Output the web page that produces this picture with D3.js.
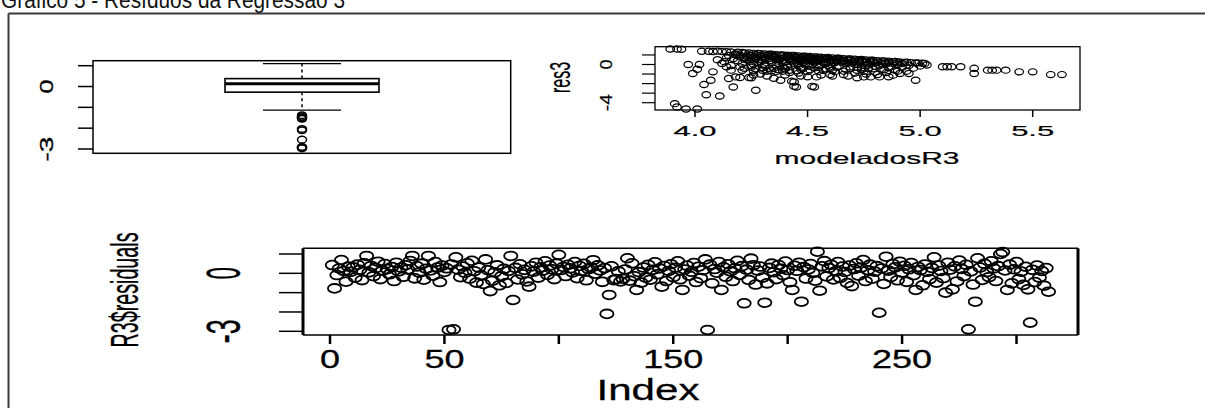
<!DOCTYPE html>
<html><head><meta charset="utf-8">
<script src="https://cdn.jsdelivr.net/npm/d3@7"></script>
<style>html,body{margin:0;padding:0;background:#fff;overflow:hidden}</style>
</head><body>
<svg id="c" width="1205" height="408"></svg>
<script>
// ---------- DATA ----------
const titleText = "Gráfico 5 - Resíduos da Regressão 3";

// R3$residuals by index (1..314)
const residuals = [
 0.43,-0.78,-0.09,0.25,0.69,0.12,-0.43,0.35,0.08,0.31,
 -0.22,0.45,0.18,-0.35,0.52,0.90,0.05,0.38,-0.15,0.27,
 0.60,-0.30,0.14,0.48,0.22,-0.05,0.33,-0.40,0.55,0.10,
 0.29,-0.18,0.42,0.20,0.64,0.90,-0.26,0.36,0.04,0.50,
 -0.33,0.24,0.90,0.15,-0.12,0.58,0.30,-0.45,0.40,0.07,
 0.26,-2.93,0.46,-2.90,0.83,0.19,-0.20,0.35,0.02,0.52,
 -0.28,0.65,0.11,-0.48,0.30,-0.10,-0.55,0.72,0.16,-0.92,
 -0.38,0.05,0.41,-0.62,-0.15,0.23,-0.50,0.12,0.90,-1.38,
 0.28,-0.32,0.47,-0.05,0.18,-0.42,-0.69,0.36,0.09,0.55,
 -0.22,0.31,0.14,0.62,-0.08,0.40,0.21,-0.30,0.50,0.96,
 0.17,0.33,-0.14,0.44,0.26,0.05,0.58,-0.25,0.38,0.12,
 0.49,-0.36,0.22,0.30,0.68,-0.02,0.41,0.15,-0.44,0.27,
 -2.10,-1.12,0.36,-0.35,-0.30,0.10,-0.42,-0.28,0.20,0.78,
 -0.38,0.52,-0.15,-0.86,0.06,-0.48,0.30,-0.22,0.44,-0.33,
 0.18,0.57,-0.05,0.25,-0.69,0.38,-0.40,0.12,0.47,-0.20,
 0.29,0.62,-0.31,-0.86,0.20,0.40,-0.12,0.08,0.53,-0.45,
 0.34,-0.25,0.16,0.72,-2.93,0.45,-0.52,0.22,0.03,0.58,
 -0.86,0.31,-0.18,0.47,0.10,-0.40,0.26,0.65,-0.08,0.37,
 -1.55,0.19,-0.34,0.76,0.42,-0.58,0.14,0.35,-0.22,-1.52,
 -0.52,0.28,0.50,0.06,-0.30,0.43,0.24,-0.10,0.61,0.17,
 -0.46,-0.86,0.39,0.13,0.55,-1.47,0.32,-0.27,0.20,0.48,
 0.02,-0.38,1.12,-0.90,0.36,0.63,-0.16,0.27,0.44,-0.32,
 0.11,0.58,-0.24,0.35,0.07,-0.50,0.40,-0.66,0.22,0.52,
 -0.12,0.30,0.69,-0.40,0.16,0.45,-0.28,0.09,0.37,-2.04,
 0.25,-0.55,0.86,0.14,-0.20,0.48,0.31,-0.36,0.60,0.04,
 0.39,-0.44,0.21,0.53,-0.10,-0.86,0.33,0.17,-0.62,0.46,
 0.08,-0.30,0.28,0.83,-0.48,0.40,0.12,-0.25,-1.00,0.55,
 0.19,-0.83,0.36,-0.42,0.66,0.23,-0.15,0.44,-2.90,0.10,
 -0.58,-1.47,0.78,0.30,-0.34,0.49,0.06,-0.20,0.62,0.26,
 -0.40,0.37,1.00,1.10,0.15,-0.86,0.45,-0.52,0.21,0.58,
 -0.30,0.09,-0.60,0.34,-0.83,-2.55,0.18,-0.45,0.40,-0.22,
 0.12,-0.64,0.27,-0.95
];

const boxStats = {lowerWhisker:-1.13, q1:-0.27, median:0.13, q3:0.38, upperWhisker:1.10};
const boxOutliers = [-1.38,-1.45,-1.47,-1.52,-1.55,-2.04,-2.10,-2.55,-2.90,-2.92,-2.93,-2.97];

// res3 vs modeladosR3 (fitted values)
const modeladosR3 = [
 3.89,3.92,3.94,3.91,3.92,3.96,4.01,3.97,4.02,4.01,3.99,4.04,4.07,4.05,4.11,
 4.03,4.06,4.08,4.10,4.12,4.10,4.12,4.14,4.08,4.16,4.15,4.18,4.20,4.24,4.17,
 4.14,4.16,4.15,4.17,4.13,4.16,4.14,4.18,
 4.19,4.21,4.20,4.22,4.19,4.21,4.20,4.22,4.23,4.21,
 4.24,4.26,4.25,4.27,4.24,4.26,4.25,4.27,4.28,4.23,4.26,4.28,4.25,
 4.29,4.31,4.30,4.32,4.29,4.31,4.30,4.32,4.29,4.33,4.30,4.31,4.28,
 4.34,4.36,4.35,4.37,4.34,4.36,4.35,4.38,4.36,4.38,4.33,4.37,4.39,
 4.39,4.41,4.40,4.42,4.39,4.41,4.40,4.43,4.44,4.42,4.43,4.40,4.41,4.38,
 4.44,4.46,4.45,4.47,4.44,4.46,4.45,4.47,4.48,4.45,4.46,4.43,4.47,4.44,
 4.49,4.51,4.50,4.52,4.49,4.51,4.50,4.52,4.53,4.53,4.50,4.51,4.48,
 4.54,4.56,4.55,4.57,4.54,4.56,4.55,4.58,4.55,4.57,4.53,
 4.59,4.61,4.60,4.62,4.59,4.61,4.60,4.63,4.60,4.62,4.58,
 4.64,4.66,4.65,4.67,4.64,4.66,4.68,4.65,4.67,4.63,
 4.69,4.71,4.70,4.72,4.69,4.71,4.73,4.70,4.72,4.68,
 4.74,4.76,4.75,4.77,4.74,4.76,4.78,4.75,4.73,4.75,
 4.79,4.81,4.80,4.82,4.79,4.81,4.83,4.80,4.78,4.78,4.82,
 4.84,4.86,4.85,4.87,4.84,4.86,4.88,4.85,4.88,
 4.89,4.91,4.90,4.92,4.89,4.91,4.93,4.90,
 4.94,4.96,4.95,4.97,4.94,4.95,4.98,4.98,
 4.99,5.01,5.00,5.02,5.03,
 4.32,4.34,4.36,4.42,4.44,4.47,4.52,4.54,4.57,4.37,4.43,4.48,4.27,4.24,4.33,4.46,4.52,4.58,4.62,4.66,
 4.18,4.20,4.22,4.24,4.26,4.28,4.29,4.31,4.33,4.35,4.36,4.38,4.39,4.41,4.42,4.44,4.45,4.46,4.48,4.49,
 4.50,4.52,4.53,4.55,4.56,4.58,4.59,4.61,4.63,4.64,4.66,4.68,4.69,4.71,4.73,4.74,4.76,4.77,4.79,4.81,
 4.83,4.84,4.86,4.88,4.90,4.92,
 4.22,4.25,4.27,4.30,4.33,4.34,4.37,4.39,4.42,4.45,4.48,4.50,4.53,4.55,4.58,4.61,4.63,4.66,4.69,4.72,
 4.74,4.77,4.80,4.83,4.86,4.32,4.40,4.47,4.54,4.60,4.68,4.72,4.35,4.26,
 5.10,5.12,5.14,5.18,5.24,5.24,5.30,5.32,5.34,5.38,5.44,5.50,5.58,5.63
];
const res3 = [
 1.62,1.62,1.60,-4.10,-4.45,-4.66,-4.66,0.00,0.00,-0.50,-0.94,-2.10,-1.65,-3.17,-3.30,
 1.38,1.38,1.36,1.40,1.35,0.50,0.10,-0.24,-0.77,-0.59,-1.47,-1.30,-1.36,-1.36,-2.36,
 1.34,1.31,0.95,0.62,0.30,-0.10,0.70,1.02,
 1.28,1.25,0.98,0.70,0.40,0.10,-0.25,1.20,0.85,-0.60,
 1.21,1.17,0.92,0.62,0.35,0.05,-0.30,-2.70,1.15,0.55,-0.65,0.20,-1.40,
 1.14,1.10,0.85,0.58,0.28,0.00,-0.35,-0.70,-1.00,1.08,0.45,-0.15,0.75,
 1.07,1.03,0.80,0.52,0.22,-0.05,-0.40,-1.65,-0.75,1.00,0.62,0.10,-0.25,
 1.00,0.97,0.75,0.48,0.18,-0.10,-0.45,-1.76,-2.29,-0.85,0.95,0.30,-0.30,0.60,
 0.94,0.90,0.68,0.40,0.12,-0.15,-2.36,-0.50,0.88,0.25,-0.90,0.55,-0.30,-1.83,
 0.87,0.83,0.60,0.33,0.05,-0.20,-1.29,-2.29,-2.36,0.80,0.45,-0.55,0.20,
 0.80,0.76,0.52,0.25,0.00,-1.10,-0.30,0.72,0.38,-0.60,0.62,
 0.73,0.69,0.45,0.18,-0.08,-1.20,-0.40,0.65,0.30,-0.75,0.55,
 0.66,0.62,0.38,0.10,-0.15,-1.05,0.58,0.25,-0.50,0.48,
 0.59,0.55,0.30,0.02,-0.25,-0.90,0.50,0.15,-0.60,0.42,
 0.52,0.48,0.22,-0.05,-0.35,-1.00,0.45,-0.70,0.35,-1.30,
 0.45,0.41,0.15,-0.12,-0.45,-1.06,0.38,-0.80,0.28,-1.30,-1.30,
 0.38,0.34,0.08,-0.20,-0.55,-1.28,0.30,-0.85,-1.12,
 0.31,0.27,0.00,-0.30,-0.62,-0.94,0.22,-0.70,
 0.24,0.20,-0.08,-0.38,-0.70,-0.94,0.16,-1.65,
 0.17,0.13,-0.15,0.10,-0.05,
 0.95,0.90,0.70,0.85,0.78,0.72,0.70,0.62,0.55,0.35,0.35,0.50,1.00,0.75,0.40,0.05,-0.05,0.10,0.40,0.45,
 1.10,0.80,0.55,1.00,0.80,0.50,0.95,0.70,0.85,0.95,0.55,0.80,0.45,0.85,0.65,0.45,0.80,0.55,0.70,0.40,
 0.75,0.55,0.40,0.68,0.45,0.30,0.60,0.50,0.35,0.55,0.30,0.20,0.45,0.38,0.20,0.40,0.30,0.12,0.30,0.25,
 0.10,0.25,0.18,0.12,0.18,0.10,
 -0.40,-0.10,-0.45,-0.60,-0.40,-0.65,-0.55,-0.70,-0.60,-0.65,-0.40,-0.75,-0.35,-0.70,-0.45,-0.60,-0.30,-0.70,-0.45,-0.30,
 -0.55,-0.40,-0.20,-0.50,-0.35,-1.20,-1.10,-1.20,-1.30,-1.05,-1.20,-1.40,-1.45,-1.10,
 -0.23,-0.23,-0.23,-0.23,-0.40,-0.94,-0.59,-0.59,-0.59,-0.59,-0.77,-0.77,-1.06,-1.06
];

const boxTicks = [-3,-2,-1,0,1];
const boxTickLabels = ["-3","0"];
const scTicksY = [-4,-3,-2,-1,0,1];
const scTickLabelsY = ["-4","0"];
const scTicksX = [4.0,4.5,5.0,5.5];
const idxTicksY = [-3,-2,-1,0,1];
const idxTickLabelsY = ["-3","0"];
const idxTicksX = [0,50,100,150,200,250,300];
const idxTickLabelsX = ["0","50","150","250"];

// ---------- DRAW ----------
const svg = d3.select("#c");
const FONT = "'Liberation Sans', Arial, Helvetica, sans-serif";

function htext(g, str, x, y, size, len, sw){
  const t = g.append("text").attr("y",y).attr("font-family",FONT)
    .attr("font-size",size).attr("fill","#000")
    .attr("stroke","#000").attr("stroke-width",sw||0).text(str);
  if(len){ t.attr("x",x-len/2).attr("text-anchor","start").attr("textLength",len).attr("lengthAdjust","spacingAndGlyphs"); }
  else { t.attr("x",x).attr("text-anchor","middle"); }
  return t;
}
function vtext(g, str, x, y, size, len, sw){
  return g.append("text").attr("transform",`translate(${x},${y}) rotate(-90)`)
    .attr("x",-len/2).attr("y",0).attr("text-anchor","start")
    .attr("font-family",FONT).attr("font-size",size).attr("fill","#000")
    .attr("stroke","#000").attr("stroke-width",sw||0).text(str)
    .attr("textLength",len).attr("lengthAdjust","spacingAndGlyphs");
}

// outer frame + title
svg.append("line").attr("x1",8.5).attr("x2",1205).attr("y1",13.5).attr("y2",13.5).attr("stroke","#3a3a3a").attr("stroke-width",2);
svg.append("line").attr("x1",8.5).attr("x2",8.5).attr("y1",13.5).attr("y2",408).attr("stroke","#3a3a3a").attr("stroke-width",2);
svg.append("text").attr("x",1).attr("y",8).attr("font-family",FONT).attr("font-size",24)
  .attr("textLength",344).attr("lengthAdjust","spacingAndGlyphs")
  .attr("fill","#111").text(titleText);

// ---------- Boxplot panel ----------
{
  const g = svg.append("g");
  const y = d3.scaleLinear().domain([-3,1]).range([149,65.7]);
  const cx = 302, bw = 77, cw = 39;
  g.append("rect").attr("x",93).attr("y",60.7).attr("width",417.7).attr("height",92.6)
    .attr("fill","none").attr("stroke","#000").attr("stroke-width",1.5);
  g.selectAll(".t").data(boxTicks).join("line").attr("x1",78).attr("x2",93)
    .attr("y1",d=>y(d)).attr("y2",d=>y(d)).attr("stroke","#000").attr("stroke-width",1.5);
  boxTickLabels.forEach(s=>vtext(g, s, 53, y(+s), 18, s.length>1?25:14, 0.3));
  g.append("line").attr("x1",cx).attr("x2",cx).attr("y1",y(boxStats.upperWhisker)).attr("y2",y(boxStats.q3))
    .attr("stroke","#000").attr("stroke-width",1.5).attr("stroke-dasharray","3,3");
  g.append("line").attr("x1",cx).attr("x2",cx).attr("y1",y(boxStats.q1)).attr("y2",y(boxStats.lowerWhisker))
    .attr("stroke","#000").attr("stroke-width",1.5).attr("stroke-dasharray","3,3");
  [boxStats.upperWhisker, boxStats.lowerWhisker].forEach(v=>
    g.append("line").attr("x1",cx-cw).attr("x2",cx+cw).attr("y1",y(v)).attr("y2",y(v)).attr("stroke","#000").attr("stroke-width",1.3));
  g.append("rect").attr("x",cx-bw).attr("y",y(boxStats.q3)).attr("width",2*bw).attr("height",y(boxStats.q1)-y(boxStats.q3))
    .attr("fill","none").attr("stroke","#000").attr("stroke-width",1.6);
  g.append("line").attr("x1",cx-bw).attr("x2",cx+bw).attr("y1",y(boxStats.median)).attr("y2",y(boxStats.median))
    .attr("stroke","#000").attr("stroke-width",3);
  g.selectAll(".o").data(boxOutliers).join("ellipse").attr("cx",cx).attr("cy",d=>y(d))
    .attr("rx",4.5).attr("ry",3.3).attr("fill","none").attr("stroke","#000").attr("stroke-width",1.5);
}

// ---------- Scatter res3 vs modeladosR3 ----------
{
  const g = svg.append("g");
  const x = d3.scaleLinear().domain([4.0,5.5]).range([695,1032.7]);
  const y = d3.scaleLinear().domain([0,-4]).range([64.5,102.7]);
  g.append("rect").attr("x",655).attr("y",46.7).attr("width",425).attr("height",63.3)
    .attr("fill","none").attr("stroke","#000").attr("stroke-width",1.3);
  g.selectAll(".ty").data(scTicksY).join("line").attr("x1",642).attr("x2",655)
    .attr("y1",d=>y(d)).attr("y2",d=>y(d)).attr("stroke","#000").attr("stroke-width",1.2);
  g.selectAll(".tx").data(scTicksX).join("line").attr("y1",110).attr("y2",117)
    .attr("x1",d=>x(d)).attr("x2",d=>x(d)).attr("stroke","#000").attr("stroke-width",1.5);
  scTickLabelsY.forEach(s=>vtext(g, s, 612, y(+s), 17, s.length>1?17:10, 0.2));
  scTicksX.forEach(v=>htext(g, d3.format(".1f")(v), x(v), 136, 15, 43, 0.2));
  vtext(g, "res3", 570, 77.5, 30, 31, 0.2);
  htext(g, "modeladosR3", 867, 163.5, 16.5, 185, 0.2);
  g.selectAll(".p").data(modeladosR3).join("ellipse")
    .attr("cx",d=>x(d)).attr("cy",(d,i)=>y(res3[i])).attr("rx",4.3).attr("ry",3.1)
    .attr("fill","none").attr("stroke","#000").attr("stroke-width",1.2);
}

// ---------- Index plot of R3$residuals ----------
{
  const g = svg.append("g");
  const x = d3.scaleLinear().domain([0,300]).range([330,1016.5]);
  const y = d3.scaleLinear().domain([-3,1]).range([331.3,254]);
  g.append("line").attr("x1",303).attr("x2",1078).attr("y1",248.3).attr("y2",248.3).attr("stroke","#000").attr("stroke-width",1.5);
  g.append("line").attr("x1",303).attr("x2",1078).attr("y1",335).attr("y2",335).attr("stroke","#000").attr("stroke-width",1.5);
  g.append("line").attr("x1",303).attr("x2",303).attr("y1",248.3).attr("y2",335).attr("stroke","#000").attr("stroke-width",3);
  g.append("line").attr("x1",1078).attr("x2",1078).attr("y1",248.3).attr("y2",335).attr("stroke","#000").attr("stroke-width",3);
  g.selectAll(".ty").data(idxTicksY).join("line").attr("x1",279).attr("x2",303)
    .attr("y1",d=>y(d)).attr("y2",d=>y(d)).attr("stroke","#000").attr("stroke-width",1.5);
  g.selectAll(".tx").data(idxTicksX).join("line").attr("y1",335).attr("y2",344)
    .attr("x1",d=>x(d)).attr("x2",d=>x(d)).attr("stroke","#000").attr("stroke-width",2.5);
  idxTickLabelsY.forEach(s=>vtext(g, s, 240, y(+s), 48, s.length>1?24:12, 0.4));
  idxTickLabelsX.forEach(s=>htext(g, s, x(+s), 368, 25, 20*s.length, 0.3));
  htext(g, "Index", 648, 400, 30, 103, 0.3);
  vtext(g, "R3$residuals", 138, 290, 38, 115, 0.3);
  g.selectAll(".p").data(residuals).join("ellipse")
    .attr("cx",(d,i)=>x(i+1)).attr("cy",d=>y(d)).attr("rx",6.6).attr("ry",4.4)
    .attr("fill","none").attr("stroke","#000").attr("stroke-width",1.8);
}
</script>
</body></html>
